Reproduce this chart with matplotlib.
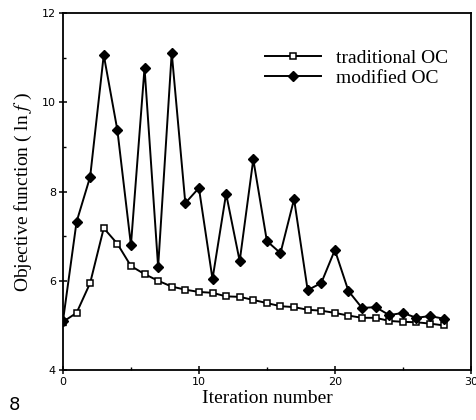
import matplotlib
matplotlib.use("Agg")
import matplotlib.pyplot as plt
from matplotlib.ticker import MultipleLocator

iterations = list(range(29))
traditional_oc = [5.08, 5.28, 5.95, 7.18, 6.83, 6.33, 6.15, 6.0, 5.87, 5.8,
                  5.75, 5.73, 5.65, 5.64, 5.57, 5.5, 5.43, 5.41, 5.35, 5.33,
                  5.28, 5.22, 5.17, 5.17, 5.1, 5.08, 5.07, 5.04, 5.0]
modified_oc = [5.1, 7.32, 8.33, 11.06, 9.38, 6.8, 10.77, 6.31, 11.11, 7.74,
               8.08, 6.04, 7.95, 6.44, 8.72, 6.89, 6.62, 7.83, 5.79, 5.95,
               6.69, 5.77, 5.39, 5.41, 5.23, 5.28, 5.17, 5.21, 5.15]
series_labels = ["traditional OC", "modified OC"]

plt.rcParams['mathtext.fontset'] = 'stix'
fig = plt.figure(figsize=(4.77, 4.20), dpi=100)
ax = fig.add_axes([0.132, 0.119, 0.855, 0.850])

ax.plot(iterations, traditional_oc, color='black', lw=1.4, marker='s', ms=4.5,
        mfc='white', mec='black', mew=1.1, label=series_labels[0])
ax.plot(iterations, modified_oc, color='black', lw=1.4, marker='D', ms=5,
        mfc='black', mec='black', label=series_labels[1])

ax.set_xlim(0, 30)
ax.set_ylim(4, 12)
ax.xaxis.set_major_locator(MultipleLocator(10))
ax.xaxis.set_minor_locator(MultipleLocator(5))
ax.yaxis.set_major_locator(MultipleLocator(2))
ax.yaxis.set_minor_locator(MultipleLocator(1))
ax.tick_params(which='major', direction='inout', length=6, width=1.1,
               labelsize=8, top=False, right=False, pad=2)
ax.tick_params(which='minor', direction='in', length=2.5, width=1,
               top=False, right=False)
for s in ax.spines.values():
    s.set_linewidth(1.3)

ax.set_xlabel("Iteration number", family='Liberation Serif', fontsize=14, labelpad=2)
ax.set_ylabel(r"Objective function ( ln $f$ )", family='Liberation Serif', fontsize=14, labelpad=6)

leg = ax.legend(loc='upper left', bbox_to_anchor=(0.495, 0.898), frameon=False,
                prop={'family': 'Liberation Serif', 'size': 14},
                handlelength=2.9, handletextpad=0.75, labelspacing=0.12,
                borderpad=0, borderaxespad=0)

fig.text(0.018, 0.025, "8", fontsize=13, family='DejaVu Sans')

fig.savefig("out.png", dpi=100)
